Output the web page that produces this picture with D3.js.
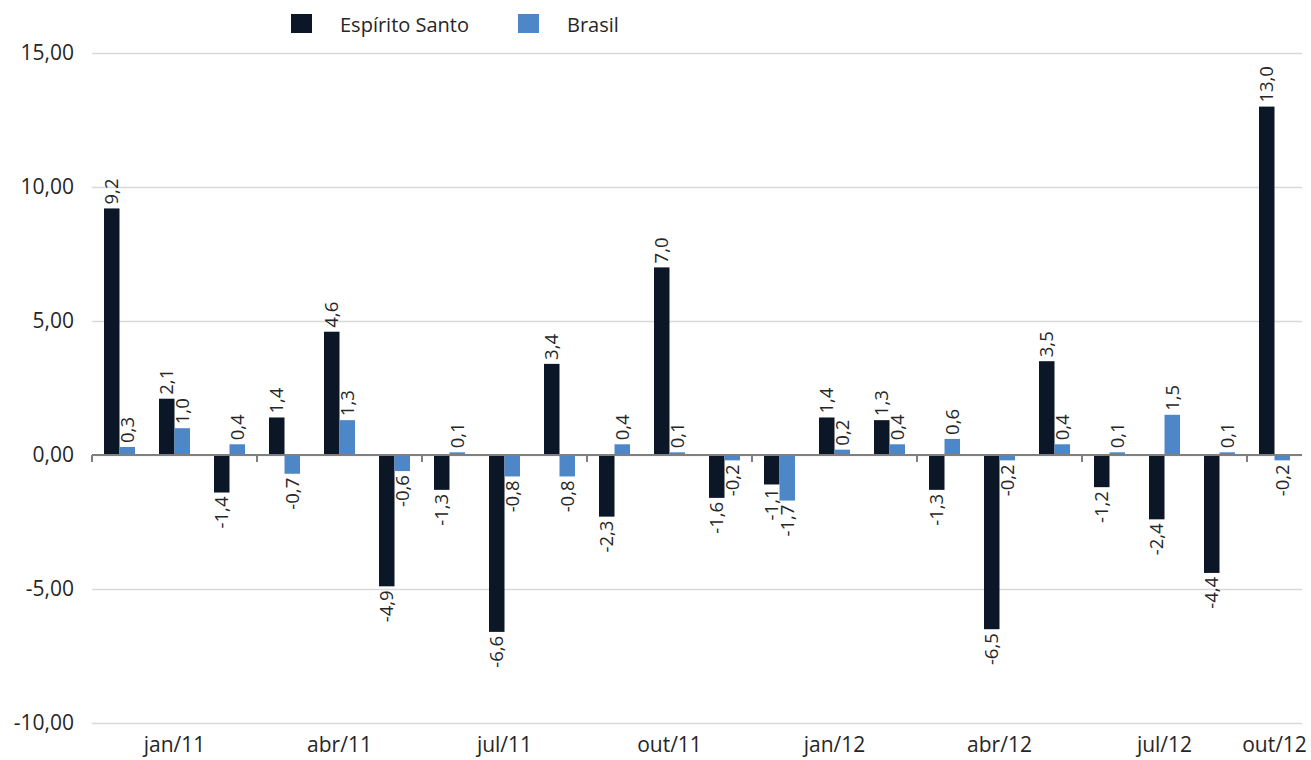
<!DOCTYPE html>
<html>
<head>
<meta charset="utf-8">
<script src="https://cdn.jsdelivr.net/npm/d3@7"></script>
<style>
  html, body { margin: 0; padding: 0; background: #fff; }
  svg { display: block; font-family: "Open Sans", sans-serif; }
</style>
</head>
<body>
<div id="chart"></div>
<script>
// --- Data ---
const months = ["jan/11", "fev/11", "mar/11", "abr/11", "mai/11", "jun/11", "jul/11", "ago/11",
  "set/11", "out/11", "nov/11", "dez/11", "jan/12", "fev/12", "mar/12", "abr/12", "mai/12",
  "jun/12", "jul/12", "ago/12", "set/12", "out/12"];
const espiritoSanto = [9.2, 2.1, -1.4, 1.4, 4.6, -4.9, -1.3, -6.6, 3.4, -2.3, 7.0, -1.6,
  -1.1, 1.4, 1.3, -1.3, -6.5, 3.5, -1.2, -2.4, -4.4, 13.0];
const brasil = [0.3, 1.0, 0.4, -0.7, 1.3, -0.6, 0.1, -0.8, -0.8, 0.4, 0.1, -0.2,
  -1.7, 0.2, 0.4, 0.6, -0.2, 0.4, 0.1, 1.5, 0.1, -0.2];
const seriesNames = ["Espírito Santo", "Brasil"];
const yTicks = [-10, -5, 0, 5, 10, 15];
const labelEvery = 3; // category axis shows one label per 3 months

// --- Constants ---
const WIDTH = 1311, HEIGHT = 760;
const PLOT_LEFT = 92, PLOT_RIGHT = 1302;
const PLOT_TOP = 53, PLOT_BOTTOM = 723;
const COLORS = ["#0b1626", "#4e87c7"];
const TEXT_COLOR = "#262626";

// pt-BR number format, plain hyphen for negatives like the source
const ptBR = d3.formatLocale({ decimal: ",", thousands: ".", grouping: [3], currency: ["R$", ""], minus: "-" });
const fmtTick = ptBR.format(".2f");
const fmtLabel = ptBR.format(".1f");

const rows = months.map((m, i) => ({ month: m, values: [espiritoSanto[i], brasil[i]] }));

const svg = d3.select("#chart").append("svg")
  .attr("width", WIDTH)
  .attr("height", HEIGHT);

// --- Scales ---
const x = d3.scaleBand()
  .domain(months)
  .range([PLOT_LEFT, PLOT_RIGHT])
  .paddingInner(0.4364)
  .paddingOuter(0.2182);

const xSub = d3.scaleBand()
  .domain([0, 1])
  .range([0, x.bandwidth()])
  .padding(0);

const y = d3.scaleLinear()
  .domain([-10, 15])
  .range([PLOT_BOTTOM, PLOT_TOP]);

// --- Y axis with gridlines ---
const yAxis = svg.append("g")
  .attr("transform", `translate(${PLOT_LEFT},0)`)
  .call(d3.axisLeft(y)
    .tickValues(yTicks)
    .tickSize(-(PLOT_RIGHT - PLOT_LEFT))
    .tickPadding(18)
    .tickFormat(fmtTick));
yAxis.select(".domain").remove();
yAxis.selectAll(".tick line")
  .attr("stroke", "#d9d9d9")
  .attr("stroke-width", 1.5);
yAxis.selectAll(".tick text")
  .attr("fill", TEXT_COLOR)
  .style("font-size", "21px")
  .style("font-family", "'Open Sans', sans-serif");

// --- Bars ---
const groups = svg.append("g").selectAll("g")
  .data(rows)
  .join("g")
  .attr("transform", d => `translate(${x(d.month)},0)`);

groups.selectAll("rect")
  .data(d => d.values.map((v, s) => ({ v, s })))
  .join("rect")
  .attr("x", d => xSub(d.s))
  .attr("width", xSub.bandwidth())
  .attr("y", d => y(Math.max(0, d.v)))
  .attr("height", d => Math.abs(y(d.v) - y(0)))
  .attr("fill", d => COLORS[d.s]);

// --- Category axis ---
const step = x.step();
const y0 = y(0);
const axisG = svg.append("g");
axisG.append("line")
  .attr("x1", PLOT_LEFT).attr("x2", PLOT_RIGHT)
  .attr("y1", y0).attr("y2", y0)
  .attr("stroke", "#7f7f7f")
  .attr("stroke-width", 2);

const tickIdx = d3.range(0, months.length, labelEvery);
axisG.selectAll(".xtick")
  .data(tickIdx)
  .join("line")
  .attr("class", "xtick")
  .attr("x1", i => PLOT_LEFT + i * step)
  .attr("x2", i => PLOT_LEFT + i * step)
  .attr("y1", y0).attr("y2", y0 + 7)
  .attr("stroke", "#7f7f7f")
  .attr("stroke-width", 2);

axisG.selectAll(".xlabel")
  .data(tickIdx)
  .join("text")
  .attr("class", "xlabel")
  .attr("x", i => PLOT_LEFT + (i + Math.min(i + labelEvery, months.length)) / 2 * step)
  .attr("y", 752)
  .attr("text-anchor", "middle")
  .attr("fill", TEXT_COLOR)
  .style("font-size", "21px")
  .text(i => months[i]);

// --- Data labels (rotated) ---
groups.selectAll("text")
  .data(d => d.values.map((v, s) => ({ v, s })))
  .join("text")
  .each(function (d) {
    const cx = xSub(d.s) + xSub.bandwidth() / 2;
    const cy = d.v >= 0 ? y(d.v) - 4 : y(d.v) + 4;
    d3.select(this)
      .attr("x", cx)
      .attr("y", cy)
      .attr("dy", "0.35em")
      .attr("transform", `rotate(-90,${cx},${cy})`)
      .attr("text-anchor", d.v >= 0 ? "start" : "end");
  })
  .attr("fill", TEXT_COLOR)
  .style("font-size", "18.5px")
  .text(d => fmtLabel(d.v));

// --- Legend ---
const legendX = [291, 518];
const legend = svg.append("g").selectAll("g")
  .data(seriesNames)
  .join("g")
  .attr("transform", (d, i) => `translate(${legendX[i]},14)`);
legend.append("rect")
  .attr("width", 21).attr("height", 19)
  .attr("fill", (d, i) => COLORS[i]);
legend.append("text")
  .attr("x", (d, i) => i === 0 ? 49 : 49)
  .attr("y", 18)
  .attr("fill", TEXT_COLOR)
  .style("font-size", "20px")
  .text(d => d);
</script>
</body>
</html>
